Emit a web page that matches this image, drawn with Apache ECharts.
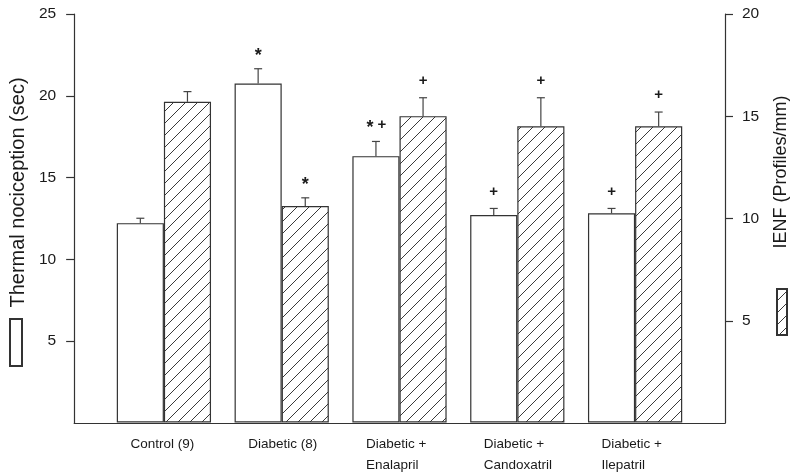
<!DOCTYPE html>
<html>
<head>
<meta charset="utf-8">
<script src="https://cdn.jsdelivr.net/npm/echarts@6/dist/echarts.min.js"></script>
<style>
html,body{margin:0;padding:0;background:#fff;}
#chart{width:800px;height:472px;}
</style>
</head>
<body>
<div id="chart"></div>
<script>
const categories = ['Control (9)', 'Diabetic (8)', 'Diabetic +\nEnalapril', 'Diabetic +\nCandoxatril', 'Diabetic +\nIlepatril'];
const thermal = [12.2, 20.75, 16.3, 12.7, 12.8];
const thermalErr = [0.3, 0.9, 0.9, 0.4, 0.3];
const thermalMarks = ['', '*', '* +', '+', '+'];
const ienf = [15.7, 10.6, 15.0, 14.5, 14.5];
const ienfErr = [0.5, 0.4, 0.9, 1.4, 0.7];
const ienfMarks = ['', '*', '+', '+', '+'];
const leftTicks = [5, 10, 15, 20, 25];
const rightTicks = [5, 10, 15, 20];

const FONT = '"Liberation Sans", Arial, sans-serif';
const INK = '#1a1a1a';

function makeHatch() {
  const s = 12;
  const c = document.createElement('canvas');
  c.width = s; c.height = s;
  const g = c.getContext('2d');
  g.fillStyle = '#fff';
  g.fillRect(0, 0, s, s);
  g.strokeStyle = '#3a3a3a';
  g.lineWidth = 1;
  g.beginPath();
  g.moveTo(-1, 1); g.lineTo(1, -1);
  g.moveTo(0, s); g.lineTo(s, 0);
  g.moveTo(s - 1, s + 1); g.lineTo(s + 1, s - 1);
  g.stroke();
  return c;
}
const hatch = { image: makeHatch(), repeat: 'repeat' };

function errRender(vals, errs, marks, side) {
  return function (params, api) {
    const i = params.dataIndex;
    const band = api.size([1, 0])[0];
    const base = api.coord([i, vals[i]]);
    const top = api.coord([i, vals[i] + errs[i]]);
    const x = base[0] + side * band * 0.2;
    const children = [
      { type: 'line', shape: { x1: x, y1: base[1], x2: x, y2: top[1] }, style: { stroke: '#444', lineWidth: 1.2 } },
      { type: 'line', shape: { x1: x - 4, y1: top[1], x2: x + 4, y2: top[1] }, style: { stroke: '#444', lineWidth: 1.2 } }
    ];
    const toks = marks[i].split(' ').filter(Boolean);
    const step = 12;
    toks.forEach((t, k) => {
      const tx = x + (k - (toks.length - 1) / 2) * step;
      const isStar = t === '*';
      children.push({
        type: 'text',
        style: {
          text: t, x: tx, y: top[1] - 17 + (isStar ? 4 : 0),
          align: 'center', verticalAlign: 'middle',
          font: (isStar ? 'bold 18px ' : 'bold 15px ') + FONT, fill: INK
        }
      });
    });
    return { type: 'group', children };
  };
}

const chart = echarts.init(document.getElementById('chart'), null, { renderer: 'canvas' });
const TOP = 14, BOTTOM = 49;
const option = {
  animation: false,
  backgroundColor: '#fff',
  textStyle: { fontFamily: FONT },
  grid: [
    { left: 105, right: 106, top: TOP, bottom: BOTTOM },
    { left: 71, right: 75, top: TOP, bottom: BOTTOM }
  ],
  legend: [
    { data: ['Thermal nociception'], left: 9, top: 318, padding: 0, itemWidth: 12, itemHeight: 47, icon: 'rect', formatter: () => '', selectedMode: false },
    { data: ['IENF'], left: 776, top: 288, padding: 0, itemWidth: 10, itemHeight: 46, icon: 'rect', formatter: () => '', selectedMode: false }
  ],
  xAxis: [
    {
      type: 'category', gridIndex: 0, data: categories,
      axisLine: { show: false }, axisTick: { show: false },
      axisLabel: {
        margin: 11, interval: 0, color: INK,
        formatter: v => v.split('\n').map(l => '{a|' + l + '}').join('\n'),
        rich: { a: { width: 67, align: 'left', fontSize: 13.5, lineHeight: 21, fontFamily: FONT, color: INK } }
      }
    },
    {
      type: 'value', gridIndex: 1, min: 0, max: 1,
      axisLine: { show: true, lineStyle: { color: '#333', width: 1.2 } },
      axisTick: { show: false }, axisLabel: { show: false }, splitLine: { show: false }
    }
  ],
  yAxis: [
    { type: 'value', gridIndex: 0, min: 0, max: 25, show: false, splitLine: { show: false } },
    { type: 'value', gridIndex: 0, min: 0, max: 20, show: false, position: 'right', splitLine: { show: false } },
    {
      type: 'value', gridIndex: 1, min: 0, max: 25, interval: 5, position: 'left',
      name: 'Thermal nociception (sec)', nameLocation: 'middle', nameRotate: 90, nameGap: 43,
      nameTextStyle: { fontSize: 20, color: INK, fontFamily: FONT, padding: [0, 0, 0, 52] },
      axisLine: { show: true, lineStyle: { color: '#333', width: 1.2 } },
      axisTick: { show: true, inside: false, length: 8, lineStyle: { color: '#333', width: 1.2 }, customValues: leftTicks },
      axisLabel: { margin: 18, fontSize: 15.5, color: INK, customValues: leftTicks },
      splitLine: { show: false }
    },
    {
      type: 'value', gridIndex: 1, min: 0, max: 20, interval: 5, position: 'right',
      name: 'IENF (Profiles/mm)', nameLocation: 'middle', nameRotate: 90, nameGap: 47,
      nameTextStyle: { fontSize: 18, color: INK, fontFamily: FONT, padding: [0, 0, 0, 93] },
      axisLine: { show: true, lineStyle: { color: '#333', width: 1.2 } },
      axisTick: { show: true, inside: false, length: 8, lineStyle: { color: '#333', width: 1.2 }, customValues: rightTicks },
      axisLabel: { margin: 17, fontSize: 15.5, color: INK, customValues: rightTicks },
      splitLine: { show: false }
    }
  ],
  series: [
    {
      name: 'Thermal nociception', type: 'bar', xAxisIndex: 0, yAxisIndex: 0,
      data: thermal, barWidth: '40%', barGap: '0%',
      itemStyle: { color: '#fff', borderColor: '#333', borderWidth: 1.2 }
    },
    {
      name: 'IENF', type: 'bar', xAxisIndex: 0, yAxisIndex: 1,
      data: ienf, barWidth: '40%', barGap: '0%',
      itemStyle: { color: hatch, borderColor: '#333', borderWidth: 1.2 }
    },
    {
      type: 'custom', xAxisIndex: 0, yAxisIndex: 0, z: 5,
      data: thermal.map((v, i) => [i, v + thermalErr[i]]),
      encode: { x: 0, y: 1 },
      renderItem: errRender(thermal, thermalErr, thermalMarks, -1)
    },
    {
      type: 'custom', xAxisIndex: 0, yAxisIndex: 1, z: 5,
      data: ienf.map((v, i) => [i, v + ienfErr[i]]),
      encode: { x: 0, y: 1 },
      renderItem: errRender(ienf, ienfErr, ienfMarks, 1)
    }
  ]
};
chart.setOption(option);
</script>
</body>
</html>
